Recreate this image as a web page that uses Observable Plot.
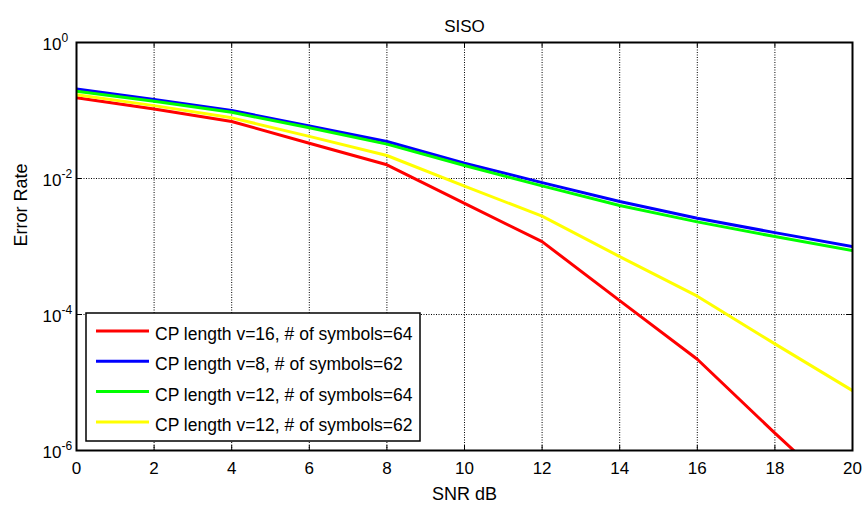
<!DOCTYPE html>
<html>
<head>
<meta charset="utf-8">
<script src="https://cdn.jsdelivr.net/npm/d3@7"></script>
<script src="https://cdn.jsdelivr.net/npm/@observablehq/plot@0.6"></script>
<style>
  html, body { margin: 0; padding: 0; background: #fff; }
  #chart svg { display: block; }
</style>
</head>
<body>
<div id="chart"></div>
<script>
// ---- data ----
const snr = [0, 2, 4, 6, 8, 10, 12, 14, 16, 18, 20];
const seriesNames = [
  "CP length v=16, # of symbols=64",
  "CP length v=8, # of symbols=62",
  "CP length v=12, # of symbols=64",
  "CP length v=12, # of symbols=62"
];
const seriesColors = ["#ff0000", "#0000ff", "#00ff00", "#ffff00"];
const errV16N64 = [0.154, 0.105, 0.069, 0.033, 0.0159, 0.0043, 0.00118, 0.00016, 2.2e-5, 1.8e-6, 1.6e-7];
const errV8N62  = [0.208, 0.145, 0.100, 0.059, 0.035, 0.0168, 0.0087, 0.0046, 0.0026, 0.0016, 0.0010];
const errV12N64 = [0.192, 0.137, 0.094, 0.0556, 0.032, 0.0155, 0.0078, 0.0040, 0.0023, 0.0014, 0.00087];
const errV12N62 = [0.170, 0.118, 0.078, 0.0416, 0.0218, 0.0077, 0.0028, 0.00071, 0.000186, 3.7e-5, 7.6e-6];
const seriesValues = [errV16N64, errV8N62, errV12N64, errV12N62];
const xTicks = [0, 2, 4, 6, 8, 10, 12, 14, 16, 18, 20];
const yTicks = [1, 1e-2, 1e-4, 1e-6];
const titleText = "SISO";
const xLabel = "SNR dB";
const yLabel = "Error Rate";

// ---- layout ----
const W = 865, H = 510;
const mL = 76, mR = 13, mT = 42, mB = 60;
const pw = W - mL - mR, ph = H - mT - mB;
const font = "Arial, 'Liberation Sans', Helvetica, sans-serif";

const rows = seriesNames.flatMap((name, i) =>
  snr.map((x, j) => ({ x, y: seriesValues[i][j], s: name }))
);

const gridStyle = { stroke: "black", strokeOpacity: 1, strokeWidth: 1, strokeDasharray: "1,1.5" };

const svg = Plot.plot({
  width: W, height: H,
  marginLeft: mL, marginRight: mR, marginTop: mT, marginBottom: mB,
  style: { fontFamily: font, fontSize: "17px", background: "white", color: "black" },
  x: { domain: [0, 20], label: null },
  y: { type: "log", domain: [1e-6, 1], label: null },
  color: { domain: seriesNames, range: seriesColors },
  marks: [
    Plot.gridX(xTicks, gridStyle),
    Plot.gridY(yTicks, gridStyle),
    Plot.tickX(xTicks, { x: d => d, insetTop: ph - 5, stroke: "black" }),
    Plot.tickX(xTicks, { x: d => d, insetBottom: ph - 5, stroke: "black" }),
    Plot.tickY(yTicks, { y: d => d, insetRight: pw - 5, stroke: "black" }),
    Plot.tickY(yTicks, { y: d => d, insetLeft: pw - 5, stroke: "black" }),
    Plot.line(rows, { x: "x", y: "y", z: "s", stroke: "s", strokeWidth: 3, clip: true }),
    Plot.frame({ stroke: "black", strokeWidth: 2 }),
    Plot.axisX(xTicks, { tickSize: 0, tickPadding: 11, fontSize: 17, label: null }),
    Plot.axisY(yTicks, {
      tickSize: 0, tickPadding: 0, dx: -34, dy: 2, textAnchor: "start", fontSize: 17, label: null,
      tickFormat: d => "10^" + Math.round(Math.log10(d))
    }),
    Plot.text([titleText], { frameAnchor: "top", dy: -23, text: d => d, fontSize: 17 }),
    Plot.text([xLabel], { frameAnchor: "bottom", dy: 49, text: d => d, fontSize: 18 }),
    Plot.text([yLabel], { frameAnchor: "left", dx: -55, rotate: -90, text: d => d, fontSize: 18 })
  ]
});

document.getElementById("chart").appendChild(svg);

// superscript exponents on the y tick labels
d3.select(svg).selectAll('g[aria-label="y-axis tick label"] text').each(function () {
  const t = d3.select(this);
  const s = t.text();
  if (!s.includes("^")) return;
  const [b, e] = s.split("^");
  t.attr("text-anchor", "start");
  t.text(null);
  t.append("tspan").text(b);
  t.append("tspan").attr("dy", "-0.7em").attr("font-size", "12px").text(e);
});

// legend (south-west inside the axes)
const lgW = 334, lgH = 128;
const lx = mL + 10, ly = H - mB - 9 - lgH;
const lg = d3.select(svg).append("g")
  .attr("font-family", font).attr("font-size", "17.5px").attr("text-anchor", "start");
lg.append("rect")
  .attr("x", lx).attr("y", ly).attr("width", lgW).attr("height", lgH)
  .attr("fill", "white").attr("stroke", "black").attr("stroke-width", 1.5);
seriesNames.forEach((name, i) => {
  const cy = ly + 18 + i * 30.3;
  lg.append("line")
    .attr("x1", lx + 10).attr("x2", lx + 63).attr("y1", cy).attr("y2", cy)
    .attr("stroke", seriesColors[i]).attr("stroke-width", 3);
  lg.append("text")
    .attr("x", lx + 69).attr("y", cy + 9)
    .attr("text-anchor", "start")
    .attr("fill", "black").text(name);
});
</script>
</body>
</html>
